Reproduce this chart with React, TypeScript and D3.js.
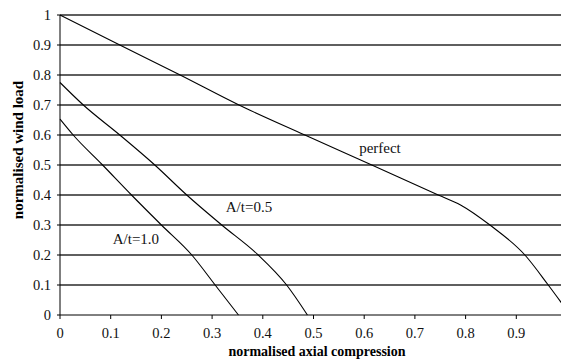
import React from "react";
import * as d3 from "d3";

// [axial compression, wind load]
const perfect: [number, number][] = [
  [0, 1], [0.118, 0.9], [0.237, 0.8], [0.353, 0.7], [0.483, 0.6],
  [0.615, 0.5], [0.746, 0.4], [0.79, 0.367], [0.848, 0.3],
  [0.917, 0.2], [0.963, 0.1], [1.0, 0.015],
];
const at05: [number, number][] = [
  [0, 0.775], [0.046, 0.7], [0.118, 0.6], [0.187, 0.5], [0.25, 0.4],
  [0.319, 0.3], [0.391, 0.2], [0.447, 0.1], [0.488, 0],
];
const at10: [number, number][] = [
  [0, 0.653], [0.026, 0.6], [0.084, 0.5], [0.141, 0.4], [0.2, 0.3],
  [0.26, 0.2], [0.306, 0.1], [0.352, 0],
];
const xTicks = [0, 0.1, 0.2, 0.3, 0.4, 0.5, 0.6, 0.7, 0.8, 0.9];
const yTicks = [0, 0.1, 0.2, 0.3, 0.4, 0.5, 0.6, 0.7, 0.8, 0.9, 1];
const labels = [
  { text: "perfect", at: [0.59, 0.54] },
  { text: "A/t=0.5", at: [0.327, 0.345] },
  { text: "A/t=1.0", at: [0.104, 0.236] },
];

const W = 561, H = 362;
const FONT = "Liberation Serif";

const App = () => {
  const x = d3.scaleLinear().domain([0, 1]).range([60, 567]);
  const y = d3.scaleLinear().domain([0, 1]).range([315, 15]);
  const line = d3.line<[number, number]>()
    .x((d) => x(d[0]))
    .y((d) => y(d[1]))
    .curve(d3.curveMonotoneX);
  const fmt = d3.format("");

  return (
    <svg
      width={W}
      height={H}
      style={{ position: "absolute", left: 0, top: 0, background: "#fff" }}
    >
      {/* gridlines */}
      {yTicks.filter((d) => d > 0).map((d) => (
        <line key={d} x1={x(0)} x2={W} y1={y(d)} y2={y(d)} stroke="#2a2a2a" strokeWidth={1.3} />
      ))}

      {/* x axis */}
      <line x1={x(0)} x2={W} y1={y(0)} y2={y(0)} stroke="#000" />
      {xTicks.map((d) => (
        <g key={d} transform={`translate(${x(d)},${y(0)})`}>
          <line y2={4} stroke="#000" />
          <text y={23} textAnchor="middle" fill="#111" style={{ fontFamily: FONT, fontSize: 14.5 }}>
            {fmt(d)}
          </text>
        </g>
      ))}

      {/* y axis */}
      <line x1={x(0)} x2={x(0)} y1={y(0)} y2={y(1)} stroke="#000" />
      {yTicks.map((d) => (
        <g key={d} transform={`translate(${x(0)},${y(d)})`}>
          <line x2={-3} stroke="#000" />
          <text x={-9} dy="0.34em" textAnchor="end" fill="#111" style={{ fontFamily: FONT, fontSize: 14.5 }}>
            {fmt(d)}
          </text>
        </g>
      ))}

      {/* curves */}
      {[perfect, at05, at10].map((s, i) => (
        <path key={i} d={line(s) ?? ""} fill="none" stroke="#000" strokeWidth={1.1} />
      ))}

      {labels.map((l) => (
        <text key={l.text} x={x(l.at[0])} y={y(l.at[1])} fill="#111" style={{ fontFamily: FONT, fontSize: 15 }}>
          {l.text}
        </text>
      ))}

      <text x={317} y={356} textAnchor="middle" fill="#000"
        style={{ fontFamily: FONT, fontSize: 14, fontWeight: "bold" }}>
        normalised axial compression
      </text>
      <text transform="translate(23,150) rotate(-90)" textAnchor="middle" fill="#000"
        style={{ fontFamily: FONT, fontSize: 15, fontWeight: "bold" }}>
        normalised wind load
      </text>
    </svg>
  );
};

export default App;
